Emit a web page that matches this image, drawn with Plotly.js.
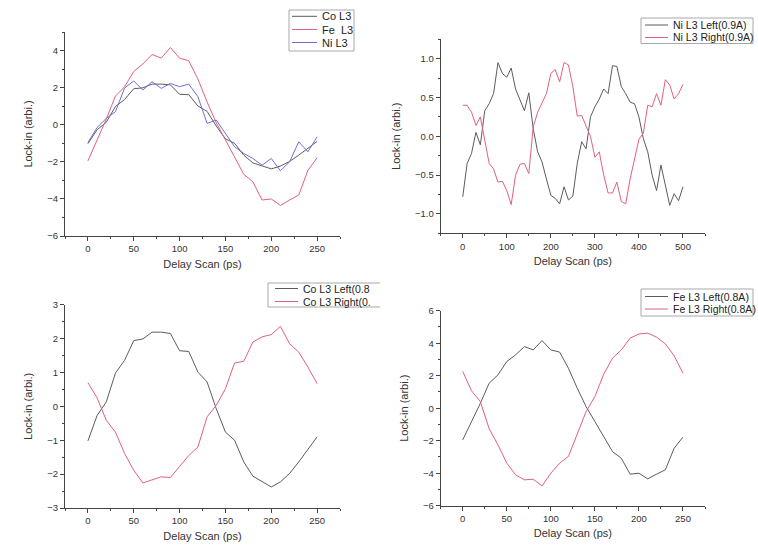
<!DOCTYPE html>
<html>
<head>
<meta charset="utf-8">
<script src="https://cdn.plot.ly/plotly-3.0.1.min.js"></script>
<style>html,body{margin:0;padding:0;background:#fff;}#chart{width:758px;height:551px;}</style>
</head>
<body>
<div id="chart"></div>
<script>
// ---- data ----
var delay250 = [0,10,20,30,40,50,60,70,80,90,100,110,120,130,140,150,160,170,180,190,200,210,220,230,240,250];
var delay500 = [0,10,20,30,40,50,60,70,80,90,100,110,120,130,140,150,160,170,180,190,200,210,220,230,240,250,
                260,270,280,290,300,310,320,330,340,350,360,370,380,390,400,410,420,430,440,450,460,470,480,490,500];

var coL3 = [-1.02,-0.27,0.13,0.98,1.36,1.94,1.99,2.19,2.19,2.15,1.64,1.62,1.01,0.72,-0.07,-0.76,-1.00,-1.64,-2.06,-2.23,-2.38,-2.23,-1.98,-1.64,-1.27,-0.90];
var feL3 = [-1.95,-0.85,0.30,1.54,2.05,2.87,3.28,3.79,3.59,4.16,3.59,3.45,2.46,1.23,0.10,-0.82,-1.74,-2.67,-3.08,-4.06,-4.00,-4.35,-4.06,-3.79,-2.46,-1.78];
var niL3 = [-0.97,-0.15,0.34,0.70,1.98,2.36,1.87,2.32,1.96,2.23,2.05,2.19,1.51,0.07,0.25,-0.47,-1.19,-1.55,-1.82,-2.18,-1.82,-2.48,-2.00,-0.92,-1.46,-0.65];

var niLeft = [-0.78,-0.35,-0.22,0.05,-0.11,0.33,0.42,0.55,0.95,0.81,
              0.76,0.88,0.61,0.46,0.33,0.56,0.10,-0.20,-0.33,-0.55,
              -0.76,-0.80,-0.87,-0.65,-0.82,-0.77,-0.35,-0.07,-0.16,0.25,
              0.38,0.48,0.61,0.55,0.91,0.90,0.64,0.55,0.44,0.42,
              0.25,-0.03,-0.20,-0.50,-0.70,-0.37,-0.63,-0.89,-0.74,-0.83,-0.65];
var niRight = [0.40,0.40,0.31,0.14,0.25,-0.07,-0.35,-0.42,-0.59,-0.58,
               -0.70,-0.88,-0.50,-0.36,-0.35,-0.48,0.12,0.31,0.42,0.55,
               0.81,0.86,0.70,0.95,0.92,0.64,0.26,0.27,0.13,0.00,
               -0.27,-0.20,-0.50,-0.73,-0.73,-0.59,-0.84,-0.87,-0.55,-0.30,
               -0.04,0.04,0.40,0.38,0.55,0.40,0.73,0.66,0.48,0.55,0.67];

var coLeft = coL3.slice();
var coRight = [0.70,0.25,-0.41,-0.76,-1.39,-1.89,-2.26,-2.16,-2.08,-2.10,-1.79,-1.45,-1.20,-0.31,0.03,0.52,1.28,1.33,1.90,2.05,2.12,2.36,1.85,1.60,1.16,0.67];

var feLeft = feL3.slice();
var feRight = [2.26,1.07,0.41,-1.27,-2.26,-3.38,-4.10,-4.41,-4.37,-4.78,-4.00,-3.38,-2.97,-1.64,-0.21,0.72,2.09,3.08,3.59,4.31,4.57,4.62,4.37,3.96,3.22,2.15];

var names1 = ["Co L3", "Fe  L3", "Ni L3"];
var names2 = ["Ni L3 Left(0.9A)", "Ni L3 Right(0.9A)"];
var names3 = ["Co L3 Left(0.8", "Co L3 Right(0."];
var names4 = ["Fe L3 Left(0.8A)", "Fe L3 Right(0.8A)"];

var xTitle = "Delay Scan (ps)";
var yTitle = "Lock-in (arbi.)";

// ---- styling ----
var GRAY = "#5c5c5c", PINK = "#e2607e", BLUE = "#6f6fd6";
var W = 758, H = 551;
function px(x){ return x / W; }
function py(y){ return 1 - y / H; }

function tr(x, y, color, xa, ya, name){
  return {x:x, y:y, type:"scatter", mode:"lines", name:name, xaxis:xa, yaxis:ya,
          line:{color:color, width:1}, showlegend:false, hoverinfo:"x+y+name"};
}

var data = [
  tr(delay250, coL3, GRAY, "x", "y", names1[0]),
  tr(delay250, feL3, PINK, "x", "y", names1[1]),
  tr(delay250, niL3, BLUE, "x", "y", names1[2]),
  tr(delay500, niLeft, GRAY, "x2", "y2", names2[0]),
  tr(delay500, niRight, PINK, "x2", "y2", names2[1]),
  tr(delay250, coLeft, GRAY, "x3", "y3", names3[0]),
  tr(delay250, coRight, PINK, "x3", "y3", names3[1]),
  tr(delay250, feLeft, GRAY, "x4", "y4", names4[0]),
  tr(delay250, feRight, PINK, "x4", "y4", names4[1])
];

var FONT = "Liberation Sans, Arial, sans-serif";
function xa(domain, range, dtick, minorDtick, anchor){
  return {domain:domain, range:range, dtick:dtick, tick0:0, anchor:anchor,
    showline:true, linecolor:"#444", linewidth:1, ticks:"outside", ticklen:4, tickcolor:"#444",
    showgrid:false, zeroline:false, fixedrange:true,
    tickfont:{size:9.5, color:"#333", family:FONT},
    minor:{ticks:"outside", ticklen:2, tickcolor:"#444", dtick:minorDtick, tick0:0, showgrid:false},
    title:{text:xTitle, font:{size:11, color:"#333", family:FONT}, standoff:6}};
}
function ya(domain, range, dtick, minorDtick, anchor, fmt){
  return {domain:domain, range:range, dtick:dtick, tick0:0, anchor:anchor, tickformat:fmt,
    showline:true, linecolor:"#444", linewidth:1, ticks:"outside", ticklen:4, tickcolor:"#444",
    showgrid:false, zeroline:false, fixedrange:true,
    tickfont:{size:9.5, color:"#333", family:FONT},
    minor:{ticks:"outside", ticklen:2, tickcolor:"#444", dtick:minorDtick, tick0:0, showgrid:false},
    title:{text:yTitle, font:{size:11, color:"#333", family:FONT}, standoff:12}};
}

var dL = [px(65), px(340)], dR = [px(440.7), px(705)];
var layout = {
  width:W, height:H, margin:{l:0, r:0, t:0, b:0},
  paper_bgcolor:"#fff", plot_bgcolor:"rgba(0,0,0,0)",
  font:{family:FONT, color:"#333"},
  showlegend:false,
  xaxis: xa(dL, [-25, 275], 50, 25, "y"),
  yaxis: ya([py(236), py(32)], [-6, 5], 2, 1, "x", ""),
  xaxis2: xa(dR, [-50, 550], 100, 50, "y2"),
  yaxis2: ya([py(233.3), py(39.3)], [-1.25, 1.25], 0.5, 0.25, "x2", ".1f"),
  xaxis3: xa(dL, [-25, 275], 50, 25, "y3"),
  yaxis3: ya([py(508), py(304.7)], [-3, 3], 1, 0.5, "x3", ""),
  xaxis4: xa(dR, [-25, 275], 50, 25, "y4"),
  yaxis4: ya([py(505.7), py(310.7)], [-6, 6], 2, 1, "x4", ""),
  shapes: [], annotations: []
};

// ---- legends drawn as boxes, sample lines and text ----
function legend(box, rows, lineX0, lineX1, textX, names, colors, openRight, fontSize){
  var bc = "#a8a8a8";
  if (openRight) {
    layout.shapes.push({type:"line", xref:"paper", yref:"paper", x0:px(box[0]), x1:px(box[2]), y0:py(box[1]), y1:py(box[1]), line:{color:bc, width:1}});
    layout.shapes.push({type:"line", xref:"paper", yref:"paper", x0:px(box[0]), x1:px(box[2]), y0:py(box[3]), y1:py(box[3]), line:{color:bc, width:1}});
    layout.shapes.push({type:"line", xref:"paper", yref:"paper", x0:px(box[0]), x1:px(box[0]), y0:py(box[1]), y1:py(box[3]), line:{color:bc, width:1}});
  } else {
    layout.shapes.push({type:"rect", xref:"paper", yref:"paper", x0:px(box[0]), x1:px(box[2]), y0:py(box[3]), y1:py(box[1]), line:{color:bc, width:1}, fillcolor:"rgba(255,255,255,0)"});
  }
  for (var i = 0; i < names.length; i++) {
    layout.shapes.push({type:"line", xref:"paper", yref:"paper", x0:px(lineX0), x1:px(lineX1), y0:py(rows[i]), y1:py(rows[i]), line:{color:colors[i], width:1}});
    layout.annotations.push({xref:"paper", yref:"paper", x:px(textX), y:py(rows[i]), xanchor:"left", yanchor:"middle",
      text:names[i], showarrow:false, font:{size:fontSize, color:"#222", family:FONT}});
  }
}
legend([289, 10, 354, 51], [16.3, 29.5, 42.5], 292, 317, 320, names1, [GRAY, PINK, BLUE], false, 11);
legend([641, 18, 753, 43.5], [25, 37.5], 645, 668, 671, names2, [GRAY, PINK], false, 10.5);
legend([268, 283, 380, 307], [288.5, 301.5], 275, 298, 301, names3, [GRAY, PINK], true, 10.5);
legend([641, 289, 753, 316], [296.5, 309], 645, 668, 671, names4, [GRAY, PINK], false, 10.5);

Plotly.newPlot("chart", data, layout, {staticPlot:true, displayModeBar:false});
</script>
</body>
</html>
